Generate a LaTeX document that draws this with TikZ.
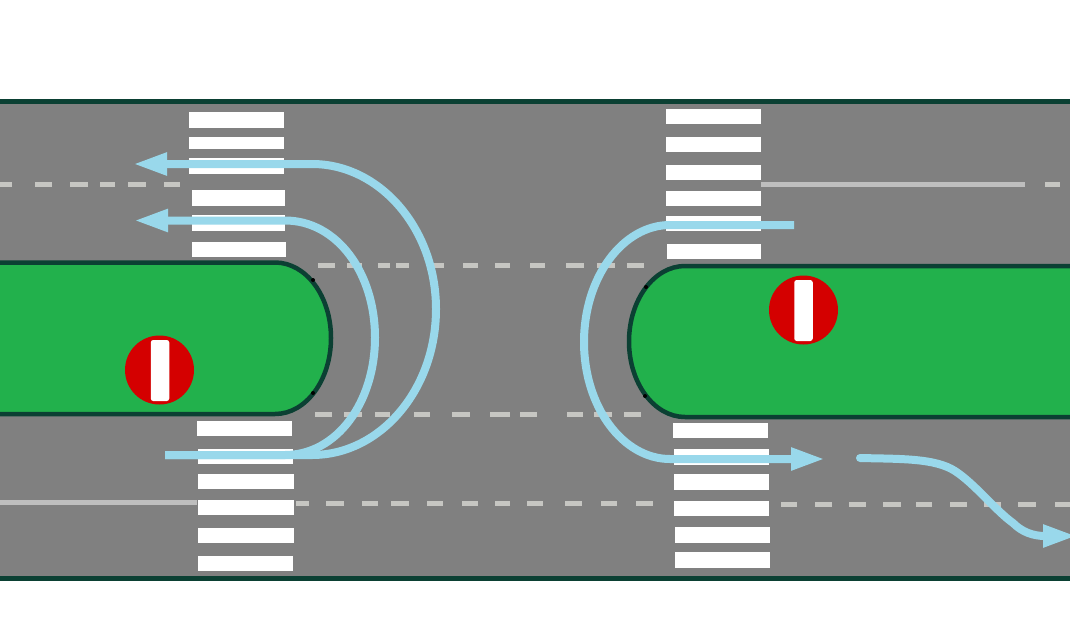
\documentclass[tikz,border=0pt]{standalone}
\definecolor{roadgrey}{HTML}{808080}
\definecolor{roadedge}{HTML}{0B4033}
\definecolor{islandgreen}{HTML}{22B14C}
\definecolor{markgrey}{HTML}{C6C6C2}
\definecolor{linegrey}{HTML}{BEBEBE}
\definecolor{routeblue}{HTML}{99D8EB}
\definecolor{signred}{HTML}{D40000}
\usepackage{tikz}
\usetikzlibrary{arrows.meta}

\begin{document}
\begin{tikzpicture}[
  x=1pt, y=-1pt,
  island/.style={draw=roadedge, line width=4.5pt, fill=islandgreen},
  stripe/.style={fill=white},
  markdash/.style={draw=markgrey, line width=5pt},
  markline/.style={draw=linegrey, line width=5pt},
  route/.style={draw=routeblue, line width=8pt},
  routearr/.style={route, -{Triangle[length=34pt, width=21pt]}},
  signdisc/.style={circle, fill=signred, minimum size=69pt, inner sep=0pt},
  signbar/.style={rectangle, rounded corners=2.5pt, fill=white, minimum width=18.5pt,
    minimum height=61pt, inner sep=0pt}
]
  \clip (0,0) rectangle (1070,621);

  % road
  \fill[roadedge] (-5,99) rectangle (1075,581);
  \fill[roadgrey] (-5,104) rectangle (1075,575.5);

  % lane markings
  \foreach \xa/\xb in {-3/12, 35/52, 70/88, 100/115, 128/146, 164/180}
    \draw[markdash] (\xa,184) -- (\xb,184);
  \foreach \xa/\xb in {318/335, 347/362, 378/390, 396/409, 432/444, 463/478,
      495/510, 530/545, 566/584, 597/615, 627/644}
    \draw[markdash] (\xa,265) -- (\xb,265);
  \foreach \xa/\xb in {315/332, 344/362, 375/390, 414/430, 452/470, 490/510,
      520/537, 567/583, 594/612, 624/641}
    \draw[markdash] (\xa,414) -- (\xb,414);
  \foreach \xa/\xb in {296/309, 326/344, 362/378, 391/409, 427/443, 462/478,
      495/510, 527/543, 565/582, 601/617, 636/653}
    \draw[markdash] (\xa,503) -- (\xb,503);
  \foreach \xa/\xb in {781/797, 815/832, 849/866, 883/901, 916/932, 950/967,
      984/1001, 1018/1036, 1055/1075}
    \draw[markdash] (\xa,504.5) -- (\xb,504.5);
  \draw[markdash] (1045,184) -- (1060,184);
  \draw[markline] (761,184) -- (1025,184);
  \draw[markline] (-3,502) -- (197,502);

  % crossings
  \foreach \xa/\ya/\xb/\yb in {189/112/284/128, 189/137/284/149, 189/158/284/174,
      192/190/285/206, 192/215/285/231, 192/242/286/257,
      197/421/292/436, 198/449/293/464, 198/474/294/489,
      198/500/294/515, 198/528/294/543, 198/556/293/571,
      666/109/761/124, 666/137/761/152, 666/165/761/180,
      666/191/761/206, 666/216/761/231, 667/244/761/259,
      673/423/768/438, 674/449/769/465, 674/474/769/490,
      674/501/769/516, 675/527/770/543, 675/552/770/568}
    \fill[stripe] (\xa,\ya) rectangle (\xb,\yb);

  % islands
  \draw[island] (-5,262.5) -- (275,262.5)
    .. controls (306,262.5) and (331,296) .. (331,338)
    .. controls (331,380) and (306,414) .. (275,414) -- (-5,414);
  \draw[island] (1075,266) -- (685,266)
    .. controls (654,266) and (629,300) .. (629,341.5)
    .. controls (629,383) and (654,417) .. (685,417) -- (1075,417);
  \foreach \xa/\ya in {313/280, 313/393, 646/287, 645/396}
    \fill[black] (\xa,\ya) circle (2pt);

  % signs
  \node[signdisc] (signleft) at (159.5,370) {};
  \node[signbar] (barleft) at (160,370.5) {};
  \node[signdisc] (signright) at (803.5,310) {};
  \node[signbar] (barright) at (803.5,310.5) {};

  % routes
  \draw[routearr] (165,455) -- (312,455)
    .. controls (380,455) and (436,390) .. (436,309)
    .. controls (436,229) and (380,164) .. (312,164) -- (133,164);
  \draw[routearr] (165,455) -- (285,455)
    .. controls (337,455) and (375,402) .. (375,337.5)
    .. controls (375,273) and (337,220.5) .. (285,220.5) -- (134,220.5);
  \draw[routearr] (794,225) -- (670,225)
    .. controls (623,225) and (584,277) .. (584,342)
    .. controls (584,407) and (623,459) .. (670,459) -- (825,459);
  \draw[routearr, line cap=round] (860,458)
    .. controls (900,459) and (935,458) .. (955,471)
    .. controls (975,484) and (995,510) .. (1013,523)
    .. controls (1022,532) and (1033,536) .. (1077,536);
\end{tikzpicture}
\end{document}
